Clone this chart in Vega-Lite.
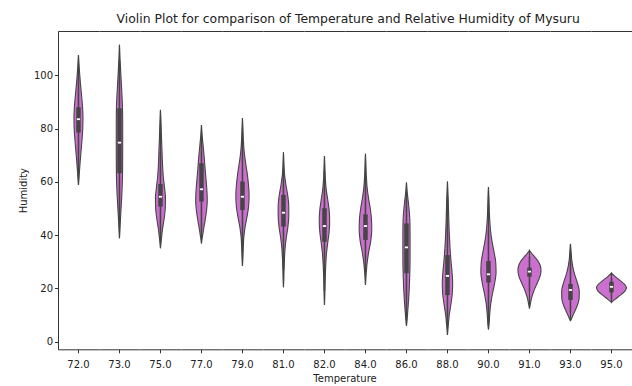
{
  "$schema": "https://vega.github.io/schema/vega-lite/v6.json",
  "padding": {"left": 18, "top": 12, "right": 0, "bottom": 0},
  "background": "white",
  "title": {"text": "Violin Plot for comparison of Temperature and Relative Humidity of Mysuru", "font": "DejaVu Sans", "fontSize": 12.4, "fontWeight": "normal", "color": "#222222", "anchor": "middle", "dx": 23, "offset": 6},
  "datasets": {
    "violins": [
      {"temperature": "72.0", "humidity": 107.6, "density": 0}, {"temperature": "72.0", "humidity": 104, "density": 0.6}, {"temperature": "72.0", "humidity": 100, "density": 1.3}, {"temperature": "72.0", "humidity": 96, "density": 2.2}, {"temperature": "72.0", "humidity": 92, "density": 3.2}, {"temperature": "72.0", "humidity": 88, "density": 4.1}, {"temperature": "72.0", "humidity": 84, "density": 4.5}, {"temperature": "72.0", "humidity": 80, "density": 4.3}, {"temperature": "72.0", "humidity": 76, "density": 3.6}, {"temperature": "72.0", "humidity": 72, "density": 2.7}, {"temperature": "72.0", "humidity": 68, "density": 1.8}, {"temperature": "72.0", "humidity": 64, "density": 1.0}, {"temperature": "72.0", "humidity": 61, "density": 0.5}, {"temperature": "72.0", "humidity": 58.8, "density": 0},
      {"temperature": "73.0", "humidity": 111.4, "density": 0}, {"temperature": "73.0", "humidity": 106, "density": 0.6}, {"temperature": "73.0", "humidity": 100, "density": 1.4}, {"temperature": "73.0", "humidity": 94, "density": 2.3}, {"temperature": "73.0", "humidity": 88, "density": 3.0}, {"temperature": "73.0", "humidity": 82, "density": 3.2}, {"temperature": "73.0", "humidity": 76, "density": 3.2}, {"temperature": "73.0", "humidity": 70, "density": 3.2}, {"temperature": "73.0", "humidity": 64, "density": 3.1}, {"temperature": "73.0", "humidity": 58, "density": 2.7}, {"temperature": "73.0", "humidity": 52, "density": 1.9}, {"temperature": "73.0", "humidity": 46, "density": 1.0}, {"temperature": "73.0", "humidity": 42, "density": 0.5}, {"temperature": "73.0", "humidity": 38.8, "density": 0},
      {"temperature": "75.0", "humidity": 87, "density": 0}, {"temperature": "75.0", "humidity": 82, "density": 0.6}, {"temperature": "75.0", "humidity": 77, "density": 1.0}, {"temperature": "75.0", "humidity": 72, "density": 1.5}, {"temperature": "75.0", "humidity": 67, "density": 2.0}, {"temperature": "75.0", "humidity": 62, "density": 2.8}, {"temperature": "75.0", "humidity": 58, "density": 4.0}, {"temperature": "75.0", "humidity": 54, "density": 5.0}, {"temperature": "75.0", "humidity": 50, "density": 4.8}, {"temperature": "75.0", "humidity": 46, "density": 3.6}, {"temperature": "75.0", "humidity": 42, "density": 2.0}, {"temperature": "75.0", "humidity": 38, "density": 0.8}, {"temperature": "75.0", "humidity": 35.1, "density": 0},
      {"temperature": "77.0", "humidity": 81.3, "density": 0}, {"temperature": "77.0", "humidity": 77, "density": 0.8}, {"temperature": "77.0", "humidity": 73, "density": 1.8}, {"temperature": "77.0", "humidity": 69, "density": 2.8}, {"temperature": "77.0", "humidity": 65, "density": 3.6}, {"temperature": "77.0", "humidity": 61, "density": 4.5}, {"temperature": "77.0", "humidity": 57, "density": 5.4}, {"temperature": "77.0", "humidity": 53, "density": 5.8}, {"temperature": "77.0", "humidity": 49, "density": 5.0}, {"temperature": "77.0", "humidity": 45, "density": 3.4}, {"temperature": "77.0", "humidity": 42, "density": 2.0}, {"temperature": "77.0", "humidity": 39, "density": 0.8}, {"temperature": "77.0", "humidity": 36.9, "density": 0},
      {"temperature": "79.0", "humidity": 83.9, "density": 0}, {"temperature": "79.0", "humidity": 79, "density": 0.6}, {"temperature": "79.0", "humidity": 75, "density": 1.0}, {"temperature": "79.0", "humidity": 71, "density": 1.8}, {"temperature": "79.0", "humidity": 67, "density": 3.2}, {"temperature": "79.0", "humidity": 63, "density": 4.8}, {"temperature": "79.0", "humidity": 59, "density": 6.0}, {"temperature": "79.0", "humidity": 55, "density": 6.6}, {"temperature": "79.0", "humidity": 51, "density": 6.2}, {"temperature": "79.0", "humidity": 47, "density": 4.6}, {"temperature": "79.0", "humidity": 43, "density": 2.6}, {"temperature": "79.0", "humidity": 39, "density": 1.3}, {"temperature": "79.0", "humidity": 35, "density": 0.8}, {"temperature": "79.0", "humidity": 31, "density": 0.4}, {"temperature": "79.0", "humidity": 28.4, "density": 0},
      {"temperature": "81.0", "humidity": 71.1, "density": 0}, {"temperature": "81.0", "humidity": 67, "density": 0.5}, {"temperature": "81.0", "humidity": 63, "density": 1.0}, {"temperature": "81.0", "humidity": 59, "density": 2.4}, {"temperature": "81.0", "humidity": 55, "density": 4.2}, {"temperature": "81.0", "humidity": 51, "density": 5.3}, {"temperature": "81.0", "humidity": 47, "density": 5.3}, {"temperature": "81.0", "humidity": 43, "density": 4.4}, {"temperature": "81.0", "humidity": 39, "density": 2.8}, {"temperature": "81.0", "humidity": 35, "density": 1.6}, {"temperature": "81.0", "humidity": 31, "density": 1.0}, {"temperature": "81.0", "humidity": 27, "density": 0.6}, {"temperature": "81.0", "humidity": 23, "density": 0.3}, {"temperature": "81.0", "humidity": 20.4, "density": 0},
      {"temperature": "82.0", "humidity": 69.7, "density": 0}, {"temperature": "82.0", "humidity": 65, "density": 0.5}, {"temperature": "82.0", "humidity": 61, "density": 0.9}, {"temperature": "82.0", "humidity": 57, "density": 1.8}, {"temperature": "82.0", "humidity": 53, "density": 3.4}, {"temperature": "82.0", "humidity": 49, "density": 4.8}, {"temperature": "82.0", "humidity": 45, "density": 5.2}, {"temperature": "82.0", "humidity": 41, "density": 4.6}, {"temperature": "82.0", "humidity": 37, "density": 3.2}, {"temperature": "82.0", "humidity": 33, "density": 2.0}, {"temperature": "82.0", "humidity": 28, "density": 1.2}, {"temperature": "82.0", "humidity": 23, "density": 0.7}, {"temperature": "82.0", "humidity": 18, "density": 0.4}, {"temperature": "82.0", "humidity": 13.8, "density": 0},
      {"temperature": "84.0", "humidity": 70.5, "density": 0}, {"temperature": "84.0", "humidity": 66, "density": 0.5}, {"temperature": "84.0", "humidity": 62, "density": 0.9}, {"temperature": "84.0", "humidity": 58, "density": 1.6}, {"temperature": "84.0", "humidity": 54, "density": 3.0}, {"temperature": "84.0", "humidity": 50, "density": 4.8}, {"temperature": "84.0", "humidity": 46, "density": 6.0}, {"temperature": "84.0", "humidity": 42, "density": 6.3}, {"temperature": "84.0", "humidity": 38, "density": 5.4}, {"temperature": "84.0", "humidity": 34, "density": 3.4}, {"temperature": "84.0", "humidity": 30, "density": 1.8}, {"temperature": "84.0", "humidity": 26, "density": 0.8}, {"temperature": "84.0", "humidity": 21.3, "density": 0},
      {"temperature": "86.0", "humidity": 59.7, "density": 0}, {"temperature": "86.0", "humidity": 56, "density": 0.8}, {"temperature": "86.0", "humidity": 52, "density": 2.0}, {"temperature": "86.0", "humidity": 48, "density": 3.0}, {"temperature": "86.0", "humidity": 44, "density": 3.5}, {"temperature": "86.0", "humidity": 40, "density": 3.6}, {"temperature": "86.0", "humidity": 36, "density": 3.6}, {"temperature": "86.0", "humidity": 32, "density": 3.6}, {"temperature": "86.0", "humidity": 28, "density": 3.5}, {"temperature": "86.0", "humidity": 24, "density": 3.2}, {"temperature": "86.0", "humidity": 20, "density": 2.8}, {"temperature": "86.0", "humidity": 16, "density": 2.2}, {"temperature": "86.0", "humidity": 12, "density": 1.4}, {"temperature": "86.0", "humidity": 8, "density": 0.6}, {"temperature": "86.0", "humidity": 5.9, "density": 0},
      {"temperature": "88.0", "humidity": 60.1, "density": 0}, {"temperature": "88.0", "humidity": 55, "density": 0.6}, {"temperature": "88.0", "humidity": 50, "density": 1.0}, {"temperature": "88.0", "humidity": 45, "density": 1.4}, {"temperature": "88.0", "humidity": 40, "density": 1.9}, {"temperature": "88.0", "humidity": 35, "density": 2.6}, {"temperature": "88.0", "humidity": 30, "density": 3.6}, {"temperature": "88.0", "humidity": 26, "density": 4.6}, {"temperature": "88.0", "humidity": 22, "density": 5.2}, {"temperature": "88.0", "humidity": 18, "density": 4.8}, {"temperature": "88.0", "humidity": 14, "density": 3.4}, {"temperature": "88.0", "humidity": 10, "density": 1.8}, {"temperature": "88.0", "humidity": 6, "density": 0.8}, {"temperature": "88.0", "humidity": 2.5, "density": 0},
      {"temperature": "90.0", "humidity": 58, "density": 0}, {"temperature": "90.0", "humidity": 54, "density": 0.5}, {"temperature": "90.0", "humidity": 50, "density": 0.8}, {"temperature": "90.0", "humidity": 46, "density": 1.2}, {"temperature": "90.0", "humidity": 42, "density": 2.0}, {"temperature": "90.0", "humidity": 38, "density": 3.4}, {"temperature": "90.0", "humidity": 34, "density": 5.4}, {"temperature": "90.0", "humidity": 30, "density": 7.2}, {"temperature": "90.0", "humidity": 26, "density": 7.6}, {"temperature": "90.0", "humidity": 22, "density": 6.2}, {"temperature": "90.0", "humidity": 18, "density": 4.0}, {"temperature": "90.0", "humidity": 14, "density": 2.2}, {"temperature": "90.0", "humidity": 10, "density": 1.2}, {"temperature": "90.0", "humidity": 6, "density": 0.5}, {"temperature": "90.0", "humidity": 4.6, "density": 0},
      {"temperature": "91.0", "humidity": 34.2, "density": 0}, {"temperature": "91.0", "humidity": 33, "density": 2.5}, {"temperature": "91.0", "humidity": 31.5, "density": 6.0}, {"temperature": "91.0", "humidity": 30, "density": 9.0}, {"temperature": "91.0", "humidity": 28.5, "density": 10.8}, {"temperature": "91.0", "humidity": 27, "density": 11.5}, {"temperature": "91.0", "humidity": 25.5, "density": 11.2}, {"temperature": "91.0", "humidity": 24, "density": 10.0}, {"temperature": "91.0", "humidity": 22, "density": 7.8}, {"temperature": "91.0", "humidity": 20, "density": 5.4}, {"temperature": "91.0", "humidity": 18, "density": 3.4}, {"temperature": "91.0", "humidity": 16, "density": 1.8}, {"temperature": "91.0", "humidity": 14, "density": 0.8}, {"temperature": "91.0", "humidity": 12.5, "density": 0},
      {"temperature": "93.0", "humidity": 36.7, "density": 0}, {"temperature": "93.0", "humidity": 34, "density": 0.6}, {"temperature": "93.0", "humidity": 31, "density": 1.2}, {"temperature": "93.0", "humidity": 28, "density": 2.4}, {"temperature": "93.0", "humidity": 25, "density": 4.4}, {"temperature": "93.0", "humidity": 22, "density": 7.0}, {"temperature": "93.0", "humidity": 19, "density": 8.8}, {"temperature": "93.0", "humidity": 16, "density": 8.6}, {"temperature": "93.0", "humidity": 13, "density": 6.2}, {"temperature": "93.0", "humidity": 10, "density": 2.6}, {"temperature": "93.0", "humidity": 7.8, "density": 0},
      {"temperature": "95.0", "humidity": 25.7, "density": 0}, {"temperature": "95.0", "humidity": 24.5, "density": 3.5}, {"temperature": "95.0", "humidity": 23, "density": 8.5}, {"temperature": "95.0", "humidity": 21.5, "density": 13.2}, {"temperature": "95.0", "humidity": 20.3, "density": 15.0}, {"temperature": "95.0", "humidity": 19, "density": 13.5}, {"temperature": "95.0", "humidity": 17.5, "density": 9.0}, {"temperature": "95.0", "humidity": 16, "density": 4.0}, {"temperature": "95.0", "humidity": 14.8, "density": 0}
    ],
    "boxes": [
      {"temperature": "72.0", "whisker_low": 64, "q1": 78.5, "median": 83.5, "q3": 88.0, "whisker_high": 102},
      {"temperature": "73.0", "whisker_low": 45, "q1": 63.2, "median": 74.7, "q3": 87.6, "whisker_high": 105},
      {"temperature": "75.0", "whisker_low": 40, "q1": 50.7, "median": 54.4, "q3": 59.2, "whisker_high": 71},
      {"temperature": "77.0", "whisker_low": 41, "q1": 52.6, "median": 57.2, "q3": 67.0, "whisker_high": 76},
      {"temperature": "79.0", "whisker_low": 36, "q1": 49.4, "median": 54.4, "q3": 60.1, "whisker_high": 75},
      {"temperature": "81.0", "whisker_low": 27, "q1": 43.2, "median": 48.4, "q3": 55.1, "whisker_high": 65},
      {"temperature": "82.0", "whisker_low": 19, "q1": 37.5, "median": 43.4, "q3": 50.1, "whisker_high": 64},
      {"temperature": "84.0", "whisker_low": 27, "q1": 38.2, "median": 43.4, "q3": 47.8, "whisker_high": 62},
      {"temperature": "86.0", "whisker_low": 10, "q1": 25.7, "median": 35.4, "q3": 44.4, "whisker_high": 56},
      {"temperature": "88.0", "whisker_low": 6, "q1": 17.5, "median": 24.7, "q3": 32.5, "whisker_high": 54},
      {"temperature": "90.0", "whisker_low": 10, "q1": 22.2, "median": 25.3, "q3": 30.3, "whisker_high": 42},
      {"temperature": "91.0", "whisker_low": 19, "q1": 24.4, "median": 26.3, "q3": 27.8, "whisker_high": 32},
      {"temperature": "93.0", "whisker_low": 11, "q1": 15.7, "median": 19.4, "q3": 21.7, "whisker_high": 30},
      {"temperature": "95.0", "whisker_low": 16, "q1": 18.5, "median": 20.6, "q3": 22.5, "whisker_high": 24}
    ]
  },
  "data": {"name": "violins"},
  "transform": [{"lookup": "temperature", "from": {"data": {"name": "boxes"}, "key": "temperature", "fields": ["whisker_low", "q1", "median", "q3", "whisker_high"]}}],
  "facet": {"column": {"field": "temperature", "type": "nominal", "sort": "ascending", "title": "Temperature",
    "header": {"labelOrient": "bottom", "titleOrient": "bottom", "labelFont": "DejaVu Sans", "labelFontSize": 10, "labelColor": "#222222", "labelPadding": 6, "titleFont": "DejaVu Sans", "titleFontSize": 10, "titleFontWeight": "normal", "titleColor": "#222222", "titlePadding": -6}}},
  "spacing": 0,
  "resolve": {"scale": {"x": "independent"}},
  "spec": {
    "width": 40.94,
    "height": 318.3,
    "resolve": {"scale": {"x": "independent"}},
    "layer": [
      {
        "mark": {"type": "area", "orient": "horizontal", "interpolate": "monotone", "fill": "#cc70d0", "stroke": "#454545", "strokeWidth": 1.1},
        "encoding": {
          "y": {"field": "humidity", "type": "quantitative", "scale": {"domain": [-2.85, 116.6], "nice": false, "zero": false},
            "axis": {"values": [0, 20, 40, 60, 80, 100], "title": "Humidity", "grid": false, "tickSize": 3.5, "labelFont": "DejaVu Sans", "labelFontSize": 10, "labelColor": "#222222", "labelPadding": 2, "titleFont": "DejaVu Sans", "titleFontSize": 10, "titleFontWeight": "normal", "titleColor": "#222222", "titlePadding": 5, "domainColor": "#333333", "tickColor": "#333333"}},
          "x": {"field": "density", "type": "quantitative", "stack": null, "scale": {"domain": [-20.47, 20.47], "nice": false},
            "axis": {"values": [0], "labels": false, "title": null, "grid": false, "tickSize": 3.5, "domainColor": "#333333", "tickColor": "#333333"}}
        }
      },
      {
        "mark": {"type": "area", "orient": "horizontal", "interpolate": "monotone", "fill": "#cc70d0", "stroke": "#454545", "strokeWidth": 1.1},
        "encoding": {
          "y": {"field": "humidity", "type": "quantitative"},
          "x": {"field": "density", "type": "quantitative", "stack": null, "scale": {"domain": [-20.47, 20.47], "nice": false, "reverse": true},
            "axis": {"orient": "top", "labels": false, "ticks": false, "title": null, "grid": false, "domainColor": "#333333"}}
        }
      },
      {
        "mark": {"type": "rule", "color": "#454545", "strokeWidth": 1.5},
        "encoding": {
          "x": {"datum": 0, "type": "quantitative", "scale": {"domain": [-20.47, 20.47], "nice": false}, "axis": null},
          "y": {"aggregate": "min", "field": "whisker_low", "type": "quantitative"},
          "y2": {"aggregate": "min", "field": "whisker_high"}
        }
      },
      {
        "mark": {"type": "rule", "color": "#454545", "strokeWidth": 4.5},
        "encoding": {
          "x": {"datum": 0, "type": "quantitative", "scale": {"domain": [-20.47, 20.47], "nice": false}, "axis": null},
          "y": {"aggregate": "min", "field": "q1", "type": "quantitative"},
          "y2": {"aggregate": "min", "field": "q3"}
        }
      },
      {
        "mark": {"type": "rule", "color": "white", "strokeWidth": 1.8},
        "encoding": {
          "x": {"datum": -1.6, "type": "quantitative", "scale": {"domain": [-20.47, 20.47], "nice": false}, "axis": null},
          "x2": {"datum": 1.6},
          "y": {"aggregate": "min", "field": "median", "type": "quantitative"}
        }
      }
    ]
  },
  "config": {"view": {"stroke": null}, "font": "DejaVu Sans", "axis": {"domainWidth": 1}}
}
